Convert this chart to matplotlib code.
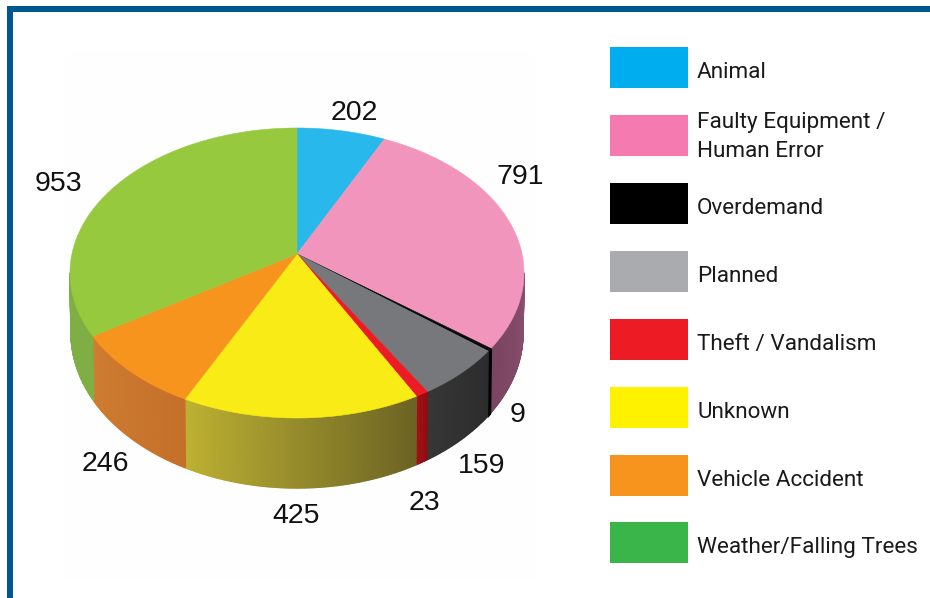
import numpy as np
import matplotlib
matplotlib.use('Agg')
import matplotlib.pyplot as plt
from matplotlib.collections import PolyCollection
from matplotlib.colors import to_rgb
from matplotlib.patches import Polygon, Rectangle

categories = ['Animal', 'Faulty Equipment /\nHuman Error', 'Overdemand', 'Planned',
              'Theft / Vandalism', 'Unknown', 'Vehicle Accident', 'Weather/Falling Trees']
values = [202, 791, 9, 159, 23, 425, 246, 953]

legend_colors = ['#00aeef', '#f47ab0', '#000000', '#aaabae', '#ed1c24', '#fff200', '#f7941d', '#39b54a']
top_colors = ['#29b8ec', '#f295bd', '#0a0a0a', '#77787b', '#ed1c24', '#f9ec16', '#f7941d', '#96c93d']
# side colours run clockwise, so from the right hand end of a slice to the left
side_start = ['#1a7fa5', '#8a5070', '#000000', '#2c2c2c', '#8f0d12', '#6b6224', '#c4702a', '#7fae45']
side_end = ['#1a7fa5', '#7a4560', '#000000', '#363636', '#a01015', '#bdb132', '#cf7c32', '#7fae45']

label_xy = [(354, 110), (520, 174), (518, 412), (482, 463), (424, 500), (296, 513), (105, 461), (58, 181)]
legend_y = [47, 115, 183, 251, 319, 387, 455, 522]

# pie geometry in pixels
cx, cy = 297, 273
rx, ry = 227, 145
apex = (297, 254)
low_rx, low_cy, low_ry = 226, 333, 155
skew = np.radians(7.5)


def warp(t):
    # the picture is in perspective, slices in front look wider
    return t - skew * np.sin(t)


def top_point(t):
    return cx + rx * np.sin(t), cy - ry * np.cos(t)


def low_point(t):
    return cx + low_rx * np.sin(t), low_cy - low_ry * np.cos(t)


fig = plt.figure(figsize=(9.3, 5.98), dpi=100)
ax = fig.add_axes([0, 0, 1, 1])
ax.set_xlim(0, 930)
ax.set_ylim(598, 0)
ax.axis('off')

# faint box left around the pie in the original
ax.add_patch(Rectangle((65, 50), 470, 530, color='#fefefe', lw=0, zorder=0))

# frame
ax.add_patch(Rectangle((7, 6), 923, 5.5, color='#00578f', lw=0))
ax.add_patch(Rectangle((7, 6), 5.5, 592, color='#00578f', lw=0))

edges = np.radians(np.concatenate([[0], np.cumsum(values)]) / sum(values) * 360)

# sides first
for i in range(len(values)):
    a, b = warp(edges[i]), warp(edges[i + 1])
    a, b = max(a, np.pi / 2), min(b, 3 * np.pi / 2)
    if a >= b:
        continue
    ts = np.linspace(a, b, max(int(np.degrees(b - a) * 2), 2))
    polys, cols = [], []
    c0, c1 = np.array(to_rgb(side_start[i])), np.array(to_rgb(side_end[i]))
    for j in range(len(ts) - 1):
        polys.append([top_point(ts[j]), top_point(ts[j + 1]), low_point(ts[j + 1]), low_point(ts[j])])
        cols.append(c0 + (c1 - c0) * j / max(len(ts) - 2, 1))
    ax.add_collection(PolyCollection(polys, facecolors=cols, edgecolors=cols, linewidths=1.0, zorder=2))

# top faces
for i in range(len(values)):
    ts = np.linspace(warp(edges[i]), warp(edges[i + 1]), 120)
    pts = [apex] + [top_point(t) for t in ts]
    ax.add_patch(Polygon(pts, closed=True, facecolor=top_colors[i], edgecolor=top_colors[i], lw=0.4, zorder=3))

# value labels
for v, (x, y) in zip(values, label_xy):
    ax.text(x, y, str(v), fontsize=20.5, family='Liberation Sans', color='#111111',
            ha='center', va='center_baseline', zorder=5)

# legend
for name, col, y in zip(categories, legend_colors, legend_y):
    ax.add_patch(Rectangle((610, y), 78, 41, color=col, lw=0))
    two_lines = '\n' in name
    ax.text(697, y + (22 if two_lines else 25.5), name, fontsize=16.2, family='Roboto',
            color='#1a1a1a', ha='left', va='center', linespacing=1.5)

fig.savefig('out.png', dpi=100)
